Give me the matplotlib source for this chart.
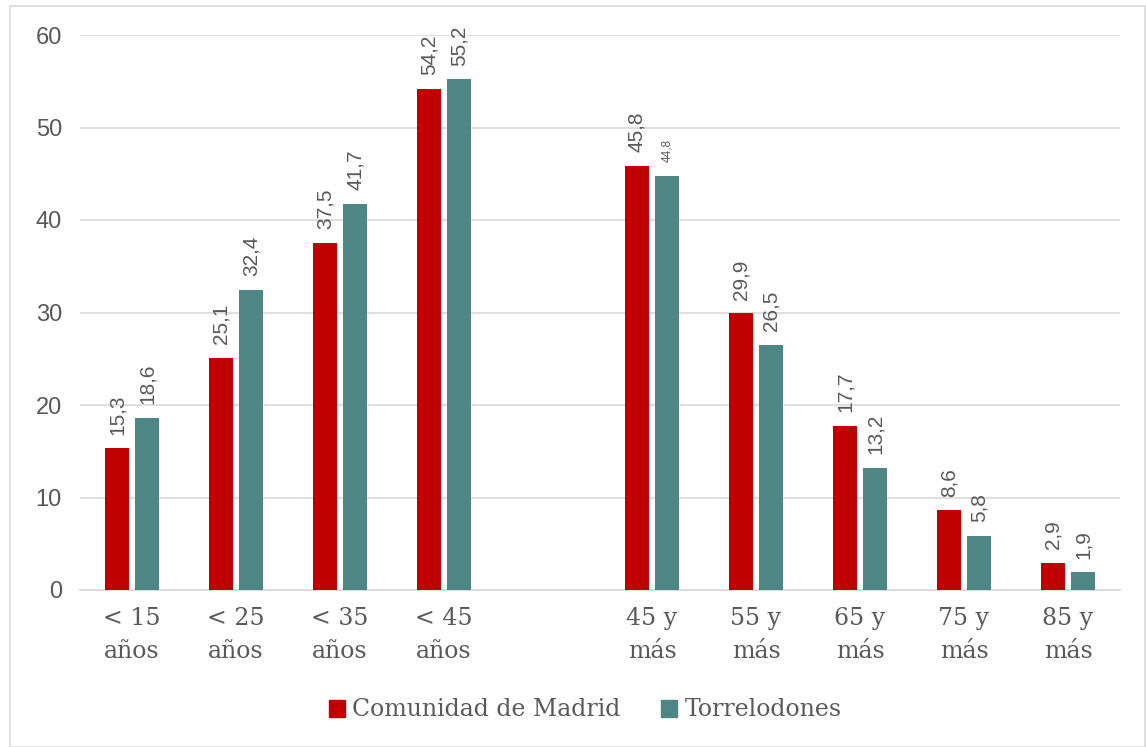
import matplotlib
matplotlib.use("Agg")
import matplotlib.pyplot as plt
from matplotlib.patches import Rectangle
import numpy as np

categories = ["< 15\naños", "< 25\naños", "< 35\naños", "< 45\naños", "",
              "45 y\nmás", "55 y\nmás", "65 y\nmás", "75 y\nmás", "85 y\nmás"]
madrid = [15.3, 25.1, 37.5, 54.2, None, 45.8, 29.9, 17.7, 8.6, 2.9]
torre = [18.6, 32.4, 41.7, 55.2, None, 44.8, 26.5, 13.2, 5.8, 1.9]
madrid_labels = ["15,3", "25,1", "37,5", "54,2", "", "45,8", "29,9", "17,7", "8,6", "2,9"]
torre_labels = ["18,6", "32,4", "41,7", "55,2", "", "44,8", "26,5", "13,2", "5,8", "1,9"]
series_names = ["Comunidad de Madrid", "Torrelodones"]
yticks = [0, 10, 20, 30, 40, 50, 60]

RED = "#C00000"
TEAL = "#4E8685"
TXT = "#595959"
GRID = "#D9D9D9"
SERIF = ["DejaVu Serif"]
SANS = ["Liberation Sans", "DejaVu Sans"]

fig = plt.figure(figsize=(11.46, 7.47), dpi=100)
fig.patches.append(Rectangle((10/1146, 0), 1 - 10/1146 - 0.001, 1 - 6/747, transform=fig.transFigure,
                             fill=False, edgecolor=GRID, linewidth=1.2))
ax = fig.add_axes([80/1146, 1 - 590/747, 1040/1146, (590 - 35)/747])

x = np.arange(len(categories))
w = 0.23
off = 0.145
for i in range(len(categories)):
    if madrid[i] is None:
        continue
    ax.bar(x[i] - off, madrid[i], width=w, color=RED, zorder=3)
    ax.bar(x[i] + off, torre[i], width=w, color=TEAL, zorder=3)
    ax.text(x[i] - off, madrid[i] + 1.5, madrid_labels[i], rotation=90, ha="center", va="bottom",
            fontsize=15, color=TXT, family=SANS)
    fs = 8.5 if torre_labels[i] == "44,8" else 15
    ax.text(x[i] + off, torre[i] + 1.5, torre_labels[i], rotation=90, ha="center", va="bottom",
            fontsize=fs, color=TXT, family=SANS)

ax.set_xlim(-0.5, len(categories) - 0.5)
ax.set_ylim(0, 60)
ax.set_yticks(yticks)
ax.set_yticklabels([str(v) for v in yticks], fontsize=17, color=TXT, family=SANS)
ax.set_xticks(x)
ax.set_xticklabels(categories, fontsize=17, color=TXT, family=SERIF, linespacing=1.6)
ax.tick_params(axis="both", length=0)
ax.tick_params(axis="y", pad=13)
ax.tick_params(axis="x", pad=12)
ax.grid(axis="y", color=GRID, linewidth=1.2, zorder=0)
for s in ["top", "right", "left"]:
    ax.spines[s].set_visible(False)
ax.spines["bottom"].set_color(GRID)
ax.spines["bottom"].set_linewidth(1.2)

handles = [Rectangle((0, 0), 1, 1, color=RED), Rectangle((0, 0), 1, 1, color=TEAL)]
leg = fig.legend(handles, series_names, loc="center", bbox_to_anchor=(585/1146, 1 - 710/747),
                 ncol=2, frameon=False, prop={"family": SERIF, "size": 17},
                 handlelength=0.7, handleheight=0.7, handletextpad=0.3, columnspacing=1.7)
for t in leg.get_texts():
    t.set_color(TXT)

fig.savefig("out.png", dpi=100)
